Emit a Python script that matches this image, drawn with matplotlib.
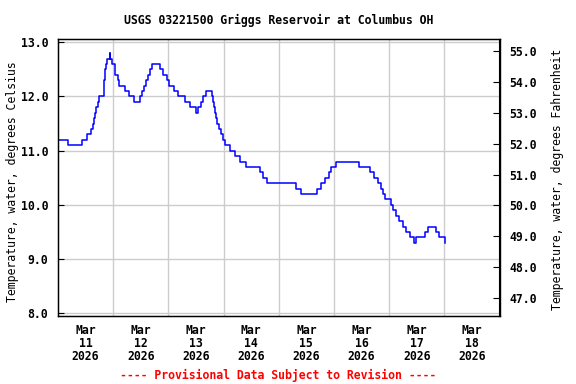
import numpy as np
import matplotlib
matplotlib.use("Agg")
import matplotlib.pyplot as plt
from matplotlib.ticker import FixedLocator, NullFormatter

# -------- DATA (hours after 2026-03-11 00:00, value changes in deg C) --------
hours = [0.0, 4.5, 10.6, 12.8, 14.5, 15.2, 15.6, 16.1, 16.6, 17.2, 18.0,
         19.8, 20.0, 20.2, 20.4, 20.6, 20.9, 21.5, 22.4, 22.8, 23.7, 24.6,
         25.0, 25.9, 26.5, 29.3, 31.0, 32.9, 35.8, 36.7, 37.5, 38.4, 39.3,
         40.1, 41.0, 44.5, 45.8, 47.6, 48.4, 50.6, 52.4, 55.4, 57.6, 60.2,
         61.1, 62.4, 63.1, 64.2, 66.8, 67.3, 67.8, 68.2, 68.7, 69.3, 70.0,
         70.8, 71.7, 72.6, 74.7, 76.9, 79.1, 81.7, 87.8, 89.2, 90.9, 103.6,
         105.8, 112.7, 114.5, 116.2, 117.9, 118.8, 120.9, 131.0, 135.8,
         137.6, 139.3, 140.6, 141.5, 142.4, 144.6, 145.9, 147.2, 148.5,
         150.2, 151.5, 152.9, 155.0, 155.5, 159.4, 160.8, 164.6, 165.5,
         168.1]
temp_c = [11.2, 11.1, 11.2, 11.3, 11.4, 11.5, 11.6, 11.7, 11.8, 11.9, 12.0,
          12.1, 12.2, 12.3, 12.4, 12.5, 12.6, 12.7, 12.8, 12.7, 12.6, 12.5,
          12.4, 12.3, 12.2, 12.1, 12.0, 11.9, 12.0, 12.1, 12.2, 12.3, 12.4,
          12.5, 12.6, 12.5, 12.4, 12.3, 12.2, 12.1, 12.0, 11.9, 11.8, 11.7,
          11.8, 11.9, 12.0, 12.1, 12.0, 11.9, 11.8, 11.7, 11.6, 11.5, 11.4,
          11.3, 11.2, 11.1, 11.0, 10.9, 10.8, 10.7, 10.6, 10.5, 10.4, 10.3,
          10.2, 10.3, 10.4, 10.5, 10.6, 10.7, 10.8, 10.7, 10.6,
          10.5, 10.4, 10.3, 10.2, 10.1, 10.0, 9.9, 9.8, 9.7,
          9.6, 9.5, 9.4, 9.3, 9.4, 9.5, 9.6, 9.5, 9.4,
          9.3]

day_labels = ["Mar\n11\n2026", "Mar\n12\n2026", "Mar\n13\n2026", "Mar\n14\n2026",
              "Mar\n15\n2026", "Mar\n16\n2026", "Mar\n17\n2026", "Mar\n18\n2026"]
c_ticks = [8.0, 9.0, 10.0, 11.0, 12.0, 13.0]
f_ticks = [47.0, 48.0, 49.0, 50.0, 51.0, 52.0, 53.0, 54.0, 55.0]

title = "USGS 03221500 Griggs Reservoir at Columbus OH"
footer = "---- Provisional Data Subject to Revision ----"

# -------- STYLE --------
plt.rcParams['font.family'] = ['DejaVu Sans Mono']
plt.rcParams['font.weight'] = 'bold'
plt.rcParams['font.size'] = 8.3

fig = plt.figure(figsize=(5.76, 3.84), dpi=100)
ax = fig.add_axes([58 / 576, 1 - 316 / 384, 441.5 / 576, 276.7 / 384])

ax.plot(np.array(hours) / 24.0, temp_c, drawstyle='steps-post', color='#0000ff', lw=1.1)

ax.set_xlim(0, 8)
ax.set_ylim(7.95, 13.055)

# grid at midnight, labels centred on each day
ax.xaxis.set_major_locator(FixedLocator(np.arange(1, 8)))
ax.xaxis.set_major_formatter(NullFormatter())
ax.xaxis.set_minor_locator(FixedLocator(np.arange(8) + 0.5))
ax.set_xticklabels(day_labels, minor=True, linespacing=0.98)
ax.tick_params(axis='x', which='both', length=0)
ax.tick_params(axis='x', which='minor', pad=6)

ax.set_yticks(c_ticks)
ax.set_yticklabels([f"{v:.1f}" for v in c_ticks])
ax.tick_params(axis='y', direction='in', length=4, width=0.8, pad=7)

ax.grid(True, which='major', color='#cccccc', lw=1.0)
ax.set_axisbelow(True)
for s in ax.spines.values():
    s.set_linewidth(1.0)

ax.set_ylabel("Temperature, water, degrees Celsius")
ax.yaxis.set_label_coords(-0.088, 0.485)

ax2 = ax.twinx()
ax2.set_ylim(46.42, 55.38)
ax2.set_yticks(f_ticks)
ax2.set_yticklabels([f"{v:.1f}" for v in f_ticks])
ax2.tick_params(axis='y', direction='in', length=4, width=0.8, pad=7)
ax2.set_ylabel("Temperature, water, degrees Fahrenheit", rotation=90)
ax2.yaxis.set_label_coords(1.117, 0.495)

fig.text(0.483, 1 - 20 / 384, title, ha='center', va='center')
fig.text(0.482, 1 - 375 / 384, footer, ha='center', va='center', color='red')

fig.savefig("out.png", dpi=100)
